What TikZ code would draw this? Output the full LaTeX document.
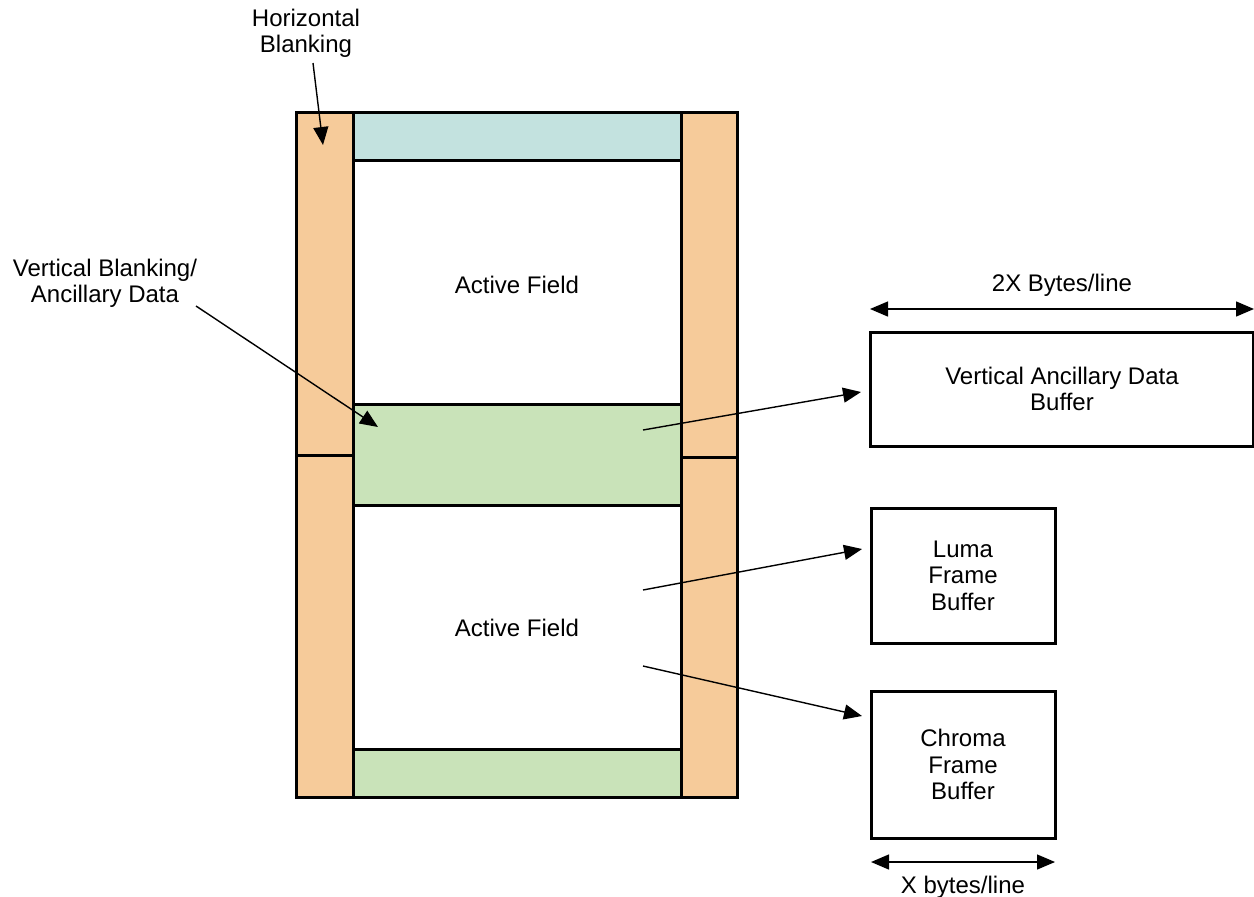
\documentclass[tikz,border=0pt]{standalone}
\usepackage{fontspec}
\setmainfont{Liberation Sans}
\usetikzlibrary{arrows.meta}
\definecolor{hblank}{HTML}{F6CB9A}
\definecolor{vtop}{HTML}{C3E2DF}
\definecolor{vanc}{HTML}{C9E3B9}
\begin{document}
\begin{tikzpicture}[x=0.5pt,y=-0.5pt,
  region/.style={draw=black,line width=1.5pt},
  bufbox/.style={draw=black,line width=1.5pt,fill=white,inner sep=0pt,align=center},
  lbl/.style={align=center,inner sep=0pt,font=\fontsize{12}{13.2}\selectfont},
  conn/.style={line width=0.7pt,-{Triangle[length=9pt,width=7.5pt]}},
  dim/.style={line width=0.7pt,{Triangle[length=9pt,width=7.5pt]}-{Triangle[length=9pt,width=7.5pt]}}]
\useasboundingbox (0,0) rectangle (1254,896);
% regions
\draw[region,fill=hblank] (296,112) rectangle (353,455);
\draw[region,fill=hblank] (296,455) rectangle (353,797);
\draw[region,fill=hblank] (681,112) rectangle (737,457);
\draw[region,fill=hblank] (681,457) rectangle (737,797);
\draw[region,fill=vtop] (353,112) rectangle (681,160);
\draw[region,fill=vanc] (353,404) rectangle (681,505);
\draw[region,fill=vanc] (353,749) rectangle (681,797);
\draw[region] (296,112) rectangle (737,797);
% labels
\node[lbl] (af1) at (517,285) {Active Field};
\node[lbl] (af2) at (517,628) {Active Field};
\node[lbl] (hb) at (306,33) {Horizontal\\Blanking};
\node[lbl] (vb) at (105,283) {Vertical Blanking/\\Ancillary Data};
\coordinate (hbtip) at (323,145);
\coordinate (vbtip) at (378,427);
\coordinate (ancsrc) at (643,430);
\coordinate (lumasrc) at (643,590);
\coordinate (chromasrc) at (643,666);
% buffers
\node[bufbox,lbl,draw,line width=1.5pt,minimum width=191.5pt,minimum height=57pt] (vadb) at (1062,389) {Vertical Ancillary Data\\Buffer};
\node[bufbox,lbl,draw,line width=1.5pt,minimum width=92pt,minimum height=67.5pt] (luma) at (963,575.5) {Luma\\Frame\\Buffer};
\node[bufbox,lbl,draw,line width=1.5pt,minimum width=92pt,minimum height=73.5pt] (chroma) at (963,764.5) {Chroma\\Frame\\Buffer};
% dimension arrows
\coordinate (d1a) at (870,309);
\coordinate (d1b) at (1254,309);
\draw[dim] (d1a) -- (d1b);
\node[lbl] (d1l) at (1062,285) {2X Bytes/line};
\coordinate (d2a) at (871,862);
\coordinate (d2b) at (1055,862);
\draw[dim] (d2a) -- (d2b);
\node[lbl] (d2l) at (963,887) {X bytes/line};
% connectors
\draw[conn] (313,63) -- (hbtip);
\draw[conn] (196,306) -- (vbtip);
\draw[conn] (ancsrc) -- (861,392);
\draw[conn] (lumasrc) -- (862,549);
\draw[conn] (chromasrc) -- (862,716);
\end{tikzpicture}
\end{document}
